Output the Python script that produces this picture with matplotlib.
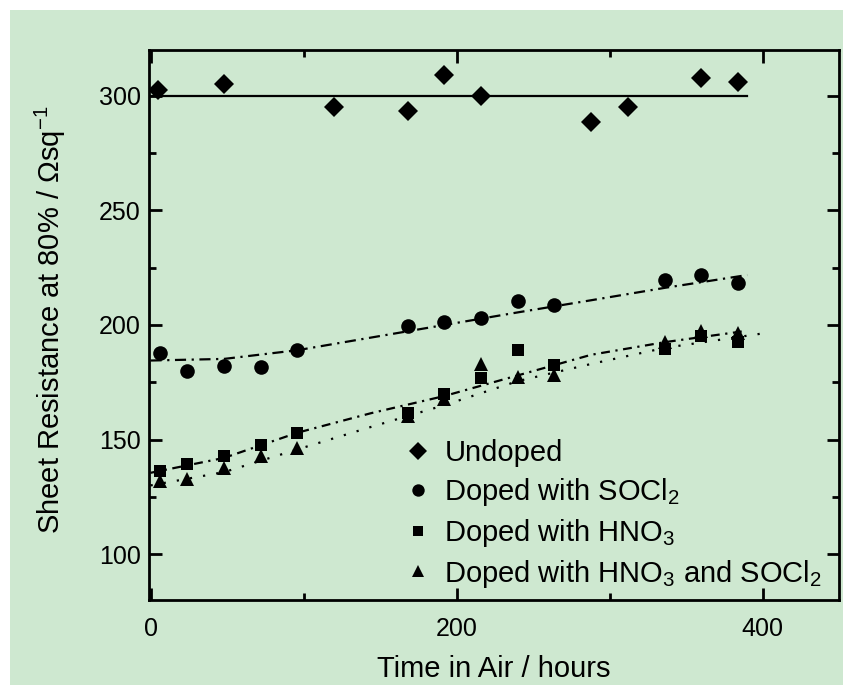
import matplotlib
matplotlib.use("Agg")
import matplotlib.pyplot as plt
from matplotlib.patches import Rectangle
from matplotlib.ticker import MultipleLocator

plt.rcParams['font.family'] = ['Liberation Sans', 'DejaVu Sans']
plt.rcParams['mathtext.fontset'] = 'custom'
plt.rcParams['mathtext.rm'] = 'Liberation Sans'

GREEN = '#cee8d0'

# measured sheet resistance (ohm/sq) vs. hours in air
t_undoped = [5, 48, 120, 168, 192, 216, 288, 312, 360, 384]
r_undoped = [302.5, 305, 295, 293.5, 309, 299.8, 288.8, 295, 308, 306]

t_doped = [6, 24, 48, 72, 96, 168, 192, 216, 240, 264, 336, 360, 384]
r_socl2 = [187.8, 179.8, 182.3, 181.6, 189.2, 199.4, 201.3, 203.2, 210.6, 208.8, 219.5, 222, 218.2]
r_hno3 = [136.4, 139.2, 142.8, 147.8, 152.9, 161.8, 169.8, 176.8, 189.2, 182.6, 189.5, 195, 192.5]
r_both = [132, 132.8, 137.8, 142.8, 146.4, 160.2, 167.5, 182.8, 177.4, 178.2, 192.5, 197.5, 196.5]

# trend lines
fit_undoped_t = [0, 390]
fit_undoped_r = [300, 300]
fit_t = [0, 48, 96, 144, 192, 240, 288, 336, 390]
fit_socl2 = [184.5, 185.2, 189.0, 194.5, 200.0, 205.5, 210.8, 216.2, 221.8]
fit_hno3 = [135.5, 142.0, 153.0, 161.5, 169.0, 178.0, 187.0, 192.5, 197.5]
fit_both_t = [0, 48, 96, 144, 192, 240, 288, 336, 404]
fit_both = [130.0, 135.8, 145.7, 155.5, 165.0, 175.5, 183.0, 190.0, 196.7]

fig = plt.figure(figsize=(8.43, 6.85), dpi=100)
fig.patch.set_facecolor('white')
fig.patches.append(Rectangle((10 / 843, 0), 1, 1 - 10 / 685, transform=fig.transFigure,
                             facecolor=GREEN, edgecolor='none', zorder=-10))

ax = fig.add_axes([149 / 843, 1 - 600 / 685, 690 / 843, 550 / 685])
ax.set_facecolor(GREEN)

ax.plot(fit_undoped_t, fit_undoped_r, color='black', lw=1.6)
ax.plot(fit_t, fit_socl2, color='black', lw=1.6, dashes=[5, 2.5, 1, 2.5])
ax.plot(fit_t, fit_hno3, color='black', lw=1.6, dashes=[4, 2.5, 1, 2.5])
ax.plot(fit_both_t, fit_both, color='black', lw=1.6, dashes=[1, 5])

ax.plot(t_undoped, r_undoped, 'D', color='black', ms=10.5, mew=0, label='Undoped')
ax.plot(t_doped, r_socl2, 'o', color='black', ms=10.5, mew=0, label=r'Doped with SOCl$_\mathregular{2}$')
ax.plot(t_doped, r_hno3, 's', color='black', ms=9.3, mew=0, label=r'Doped with HNO$_\mathregular{3}$')
ax.plot(t_doped, r_both, '^', color='black', ms=10.5, mew=0,
        label=r'Doped with HNO$_\mathregular{3}$ and SOCl$_\mathregular{2}$')

ax.set_xlim(-1, 450)
ax.set_ylim(80, 320)
ax.xaxis.set_major_locator(MultipleLocator(200))
ax.xaxis.set_minor_locator(MultipleLocator(100))
ax.yaxis.set_major_locator(MultipleLocator(50))
ax.yaxis.set_minor_locator(MultipleLocator(25))
ax.tick_params(which='both', direction='in', top=True, right=True, width=2, color='black')
ax.tick_params(which='major', length=9)
ax.tick_params(which='minor', length=5)
ax.tick_params(axis='x', labelsize=18, pad=12)
ax.tick_params(axis='y', labelsize=18, pad=6)
for s in ax.spines.values():
    s.set_linewidth(2)

ax.set_xlabel('Time in Air / hours', fontsize=21)
ax.set_ylabel(r'Sheet Resistance at 80% / Ωsq$^\mathregular{-1}$', fontsize=21)
ax.xaxis.set_label_coords(0.5, -0.126)
ax.xaxis.label.set_va('center')
ax.yaxis.set_label_coords(-0.1435, 0.51)
ax.yaxis.label.set_va('center')

ax.legend(loc='upper left', bbox_to_anchor=(0.37, 0.292), frameon=False, fontsize=21,
          handlelength=0.95, handletextpad=0.42, labelspacing=0.3, borderpad=0,
          borderaxespad=0, markerscale=0.85)

fig.savefig('out.png', dpi=100)
